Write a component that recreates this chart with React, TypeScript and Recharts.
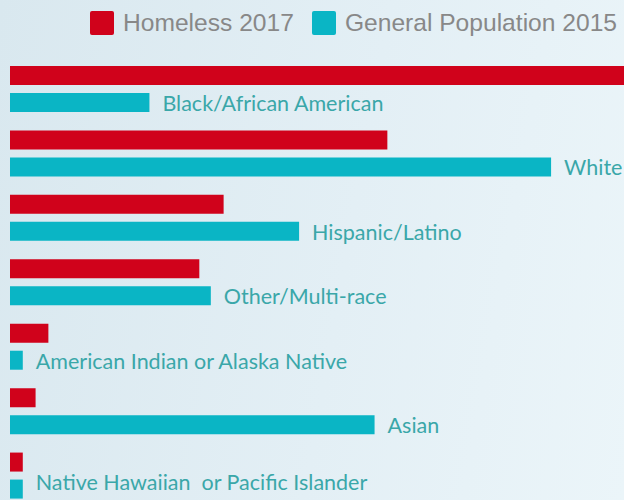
import { BarChart, Bar, XAxis, YAxis, LabelList } from 'recharts';

const categories = [
  'Black/African American',
  'White',
  'Hispanic/Latino',
  'Other/Multi-race',
  'American Indian or Alaska Native',
  'Asian',
  'Native Hawaiian  or Pacific Islander',
];
const homeless2017 = [49, 29.5, 16.7, 14.8, 3.0, 2.0, 1.0];
const generalPop2015 = [10.9, 42.3, 22.6, 15.7, 1.0, 28.5, 1.0];

const data = categories.map((name, i) => ({
  name,
  homeless: homeless2017[i],
  general: generalPop2015[i],
}));

const RED = '#d0021b';
const TEAL = '#0ab5c5';

const renderLabel = (props: any) => {
  const { x, y, width, height, value } = props;
  // keep the last label inside the 500px frame
  const cy = Math.min(Number(y) + Number(height) / 2 + 3, 485);
  return (
    <text
      x={Number(x) + Number(width) + 13}
      y={cy}
      dominantBaseline="middle"
      fill="#3aa7a9"
      fontSize={21.5}
      fontFamily="Lato, sans-serif"
      style={{ whiteSpace: 'pre' }}
    >
      {value}
    </text>
  );
};

function LegendItem({ color, label, gap }: { color: string; label: string; gap: number }) {
  return (
    <div style={{ display: 'flex', alignItems: 'center', marginLeft: gap }}>
      <div style={{ width: 24, height: 24, background: color, borderRadius: 2, marginRight: 9 }} />
      <span style={{ color: '#888', fontSize: 24.6, fontFamily: '"Liberation Sans", Arial, sans-serif' }}>{label}</span>
    </div>
  );
}

export default function App() {
  return (
    <div
      style={{
        position: 'fixed',
        top: 0,
        left: 0,
        width: 624,
        height: 500,
        overflow: 'hidden',
        background: 'linear-gradient(100deg, #d9e8ef 0%, #e3eff5 55%, #ebf5f9 100%)',
      }}
    >
      <div style={{ position: 'absolute', top: 9, left: 90, display: 'flex', whiteSpace: 'nowrap' }}>
        <LegendItem color={RED} label="Homeless 2017" gap={0} />
        <LegendItem color={TEAL} label="General Population 2015" gap={18} />
      </div>
      <BarChart
        width={624}
        height={508}
        data={data}
        layout="vertical"
        margin={{ top: 57, right: 0, bottom: 0, left: 10 }}
        barSize={19}
        barGap={8}
      >
        <XAxis type="number" domain={[0, 48]} allowDataOverflow hide />
        <YAxis type="category" dataKey="name" hide />
        <Bar dataKey="homeless" fill={RED} isAnimationActive={false} />
        <Bar dataKey="general" fill={TEAL} isAnimationActive={false}>
          <LabelList dataKey="name" content={renderLabel} />
        </Bar>
      </BarChart>
    </div>
  );
}
